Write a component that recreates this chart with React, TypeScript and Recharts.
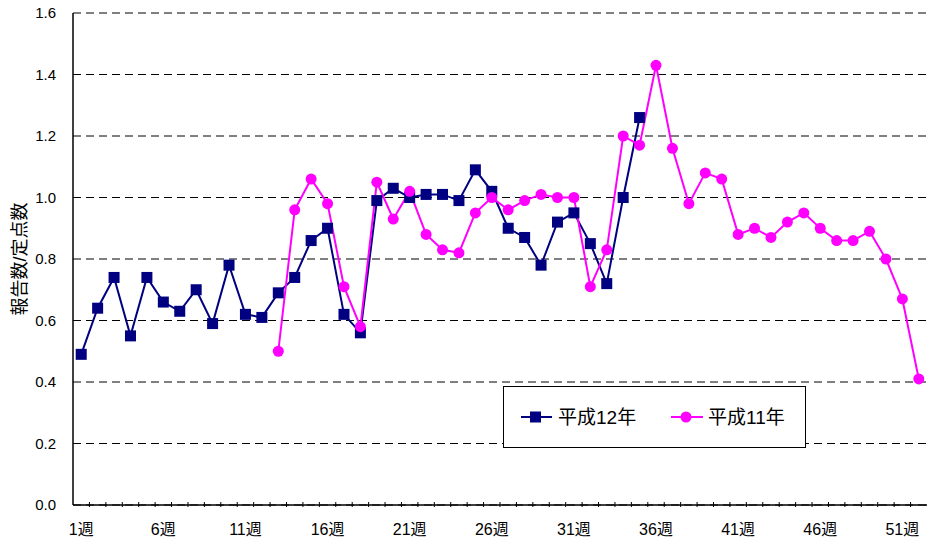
import { CartesianGrid, Legend, Line, LineChart, XAxis, YAxis } from 'recharts';

// weekly counts per sentinel site
const weeks = Array.from({ length: 52 }, (_, i) => `${i + 1}週`);

const h12Values = [
  0.49, 0.64, 0.74, 0.55, 0.74, 0.66, 0.63, 0.7, 0.59, 0.78, 0.62, 0.61, 0.69, 0.74, 0.86, 0.9,
  0.62, 0.56, 0.99, 1.03, 1.0, 1.01, 1.01, 0.99, 1.09, 1.02, 0.9, 0.87, 0.78, 0.92, 0.95, 0.85,
  0.72, 1.0, 1.26,
];

// 平成11年 starts at week 13
const h11Start = 13;
const h11Values = [
  0.5, 0.96, 1.06, 0.98, 0.71, 0.58, 1.05, 0.93, 1.02, 0.88, 0.83, 0.82, 0.95, 1.0, 0.96, 0.99,
  1.01, 1.0, 1.0, 0.71, 0.83, 1.2, 1.17, 1.43, 1.16, 0.98, 1.08, 1.06, 0.88, 0.9, 0.87, 0.92,
  0.95, 0.9, 0.86, 0.86, 0.89, 0.8, 0.67, 0.41,
];

const yTicks = [0, 0.2, 0.4, 0.6, 0.8, 1.0, 1.2, 1.4, 1.6];

const data = weeks.map((week, i) => ({
  week,
  h12: i < h12Values.length ? h12Values[i] : null,
  h11: i >= h11Start - 1 ? h11Values[i - (h11Start - 1)] : null,
}));

const FONT = '"Liberation Sans", Arial, "Noto Sans CJK JP", sans-serif';
const NAVY = '#000080';
const MAGENTA = '#ff00ff';
const W = 927;
const H = 538;
const LEFT = 73;
const BAND = (W - LEFT) / weeks.length;

function WeekTick(props: any) {
  const { x, y, index, payload } = props;
  const bx = x - BAND / 2;
  return (
    <g>
      {index > 0 && <line x1={bx} x2={bx} y1={y} y2={y - 5} stroke="#000" strokeWidth={1} />}
      {index % 5 === 0 && (
        <text x={x} y={y + 28} textAnchor="middle" fontSize={16} fontFamily={FONT} fill="#000">
          {payload.value}
        </text>
      )}
    </g>
  );
}

function SquareDot(props: any) {
  const { cx, cy, index, value } = props;
  if (cx == null || cy == null || value == null) return <g key={index} />;
  return <rect key={index} x={cx - 5.5} y={cy - 5.5} width={11} height={11} fill={NAVY} />;
}

function LegendBox() {
  return (
    <svg width={303} height={62} style={{ display: 'block' }}>
      <rect x={0.5} y={0.5} width={302} height={61} fill="#fff" stroke="#000" strokeWidth={1} />
      <line x1={18} x2={49} y1={31} y2={31} stroke={NAVY} strokeWidth={2} />
      <rect x={27} y={25.5} width={11} height={11} fill={NAVY} />
      <text x={55} y={31} dominantBaseline="central" fontSize={19} fontFamily={FONT} fill="#000">
        平成12年
      </text>
      <line x1={168} x2={200} y1={31} y2={31} stroke={MAGENTA} strokeWidth={2} />
      <circle cx={183} cy={31} r={5.5} fill={MAGENTA} />
      <text x={205} y={31} dominantBaseline="central" fontSize={19} fontFamily={FONT} fill="#000">
        平成11年
      </text>
    </svg>
  );
}

export default function App() {
  return (
    <div style={{ position: 'absolute', left: 0, top: 0, width: W, height: H, background: '#fff' }}>
      <LineChart width={W} height={H} data={data} margin={{ top: 13, right: 0, bottom: 0, left: 0 }}>
        <CartesianGrid vertical={false} stroke="#000" strokeDasharray="8 5" />
        <XAxis
          dataKey="week"
          scale="band"
          interval={0}
          height={33}
          tickSize={0}
          tickLine={false}
          axisLine={{ stroke: '#000', strokeWidth: 1.5 }}
          tick={<WeekTick />}
        />
        <YAxis
          width={LEFT}
          domain={[0, 1.6]}
          ticks={yTicks}
          tickFormatter={(v: number) => v.toFixed(1)}
          tickSize={0}
          tickMargin={17}
          tickLine={false}
          axisLine={{ stroke: '#000', strokeWidth: 1.5 }}
          tick={{ fontSize: 15, fill: '#000', fontFamily: FONT }}
          label={{
            content: () => (
              <text
                x={20}
                y={259}
                transform="rotate(-90, 20, 259)"
                textAnchor="middle"
                dominantBaseline="central"
                fontSize={18}
                fontFamily={FONT}
                fill="#000"
              >
                報告数/定点数
              </text>
            ),
          }}
        />
        <Legend
          layout="horizontal"
          verticalAlign="middle"
          align="center"
          wrapperStyle={{ left: 503, top: 386, width: 303, height: 62 }}
          content={() => <LegendBox />}
        />
        <Line
          dataKey="h12"
          name="平成12年"
          stroke={NAVY}
          strokeWidth={2}
          dot={SquareDot}
          activeDot={false}
          isAnimationActive={false}
        />
        <Line
          dataKey="h11"
          name="平成11年"
          stroke={MAGENTA}
          strokeWidth={2}
          dot={{ r: 5.5, fill: MAGENTA, stroke: MAGENTA, strokeWidth: 0 }}
          activeDot={false}
          isAnimationActive={false}
        />
      </LineChart>
    </div>
  );
}
